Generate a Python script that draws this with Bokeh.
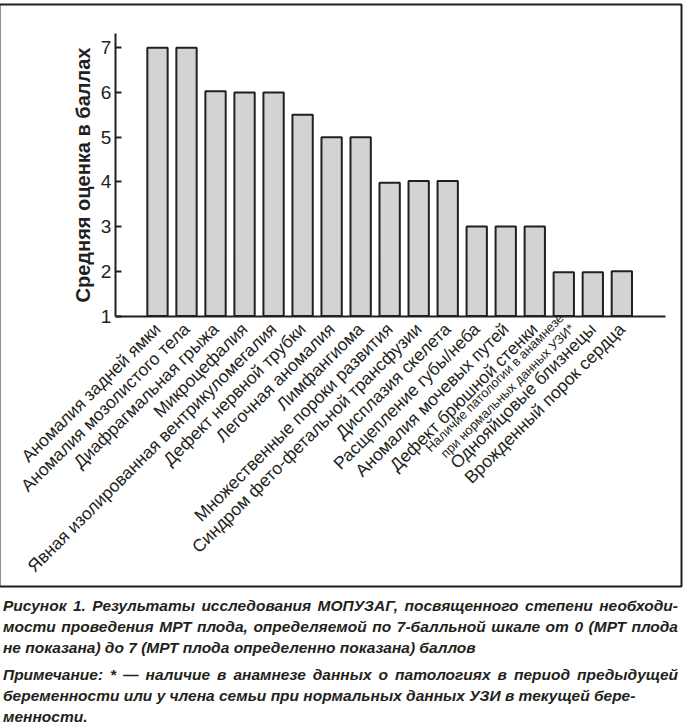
import math
from bokeh.plotting import figure
from bokeh.models import Range1d, FixedTicker, Label, Div
from bokeh.layouts import column
from bokeh.embed import file_html
from bokeh.resources import INLINE

categories = [
    "Аномалия задней ямки",
    "Аномалия мозолистого тела",
    "Диафрагмальная грыжа",
    "Микроцефалия",
    "Явная изолированная вентрикуломегалия",
    "Дефект нервной трубки",
    "Легочная аномалия",
    "Лимфангиома",
    "Множественные пороки развития",
    "Синдром фето-фетальной трансфузии",
    "Дисплазия скелета",
    "Расщепление губы/неба",
    "Аномалия мочевых путей",
    "Дефект брюшной стенки",
    "Наличие патологии в анамнезе\nпри нормальных данных УЗИ*",
    "Однояйцовые близнецы",
    "Врожденный порок сердца",
]
scores = [7.0, 7.0, 6.03, 6.0, 6.0, 5.5, 5.0, 5.0, 3.98, 4.02, 4.02, 3.0, 3.0, 3.0, 1.98, 1.98, 2.0]
y_ticks = [1, 2, 3, 4, 5, 6, 7]
y_title = "Средняя оценка в баллах"
special_index = 14

caption_par1 = [
    "Рисунок 1. Результаты исследования МОПУЗАГ, посвященного степени необходи-",
    "мости проведения МРТ плода, определяемой по 7-балльной шкале от 0 (МРТ плода",
    "не показана) до 7 (МРТ плода определенно показана) баллов",
]
caption_par2 = [
    "Примечание: * — наличие в анамнезе данных о патологиях в период предыдущей",
    "беременности или у члена семьи при нормальных данных УЗИ в текущей бере-",
    "менности.",
]

INK = "#231f20"
xs = list(range(len(categories)))

# the frame is the whole boxed panel; axes are fixed inside it
X_LO, X_HI = -5.444, 18.056
Y_LO, Y_HI = -5.051, 7.969
AX_X0, AX_X1 = -1.45, 17.5
AX_Y0, AX_Y1 = 1, 7.33

p = figure(
    width=690, height=590,
    x_range=Range1d(X_LO, X_HI),
    y_range=Range1d(Y_LO, Y_HI),
    output_backend="svg", toolbar_location=None,
    min_border_left=4, min_border_right=4,
    min_border_top=4, min_border_bottom=4,
)
p.vbar(x=xs, top=scores, bottom=AX_Y0, width=0.7,
       fill_color="#d3d3d5", line_color=INK, line_width=2)

p.xgrid.visible = False
p.ygrid.visible = False
p.outline_line_color = INK
p.outline_line_width = 2
p.border_fill_color = None

# y axis
yax = p.yaxis[0]
yax.fixed_location = AX_X0
yax.bounds = (AX_Y0, AX_Y1)
yax.ticker = FixedTicker(ticks=y_ticks)
yax.axis_label = y_title
yax.axis_label_text_font = "Liberation Sans"
yax.axis_label_text_font_style = "bold"
yax.axis_label_text_font_size = "20px"
yax.axis_label_text_color = INK
yax.axis_label_standoff = 4
yax.major_label_text_font = "Liberation Sans"
yax.major_label_text_font_size = "19px"
yax.major_label_text_color = INK
yax.major_label_standoff = 4
yax.major_tick_in = 6
yax.major_tick_out = 0
yax.major_tick_line_width = 2
yax.major_tick_line_color = INK
yax.minor_tick_line_color = None
yax.axis_line_width = 2
yax.axis_line_color = INK

# x axis
xax = p.xaxis[0]
xax.fixed_location = AX_Y0
xax.bounds = (AX_X0, AX_X1)
xax.ticker = FixedTicker(ticks=xs)
overrides = {i: c for i, c in zip(xs, categories)}
overrides[special_index] = ""
xax.major_label_overrides = overrides
xax.major_label_orientation = math.pi / 4
xax.major_label_text_font = "Liberation Sans"
xax.major_label_text_font_size = "17.5px"
xax.major_label_text_color = INK
xax.major_label_standoff = 4
xax.major_tick_line_color = None
xax.minor_tick_line_color = None
xax.axis_line_width = 2
xax.axis_line_color = INK

special = Label(
    x=xs[special_index], y=AX_Y0, text=categories[special_index],
    x_offset=3, y_offset=-5, angle=math.pi / 4,
    text_align="right", text_baseline="middle",
    text_font="Liberation Sans", text_font_size="13px",
    text_color=INK, text_line_height=1.0,
)
p.add_layout(special)


def line_div(t, justify):
    style = "white-space:nowrap;"
    if justify:
        style += "text-align:justify;text-align-last:justify;"
    return "<div style='%s'>%s</div>" % (style, t)


html = ("<div style=\"font-family:'Liberation Sans',Arial,sans-serif;font-weight:bold;"
        "font-style:italic;font-size:15.5px;line-height:21px;color:%s;width:675px\">" % INK)
html += "<div>" + line_div(caption_par1[0], True) + line_div(caption_par1[1], True) + line_div(caption_par1[2], False) + "</div>"
html += "<div style='margin-top:6px'>" + line_div(caption_par2[0], True) + line_div(caption_par2[1], False) + line_div(caption_par2[2], False) + "</div>"
html += "</div>"

caption = Div(text=html, width=680, styles={"margin-top": "5px", "margin-left": "8px"})

layout = column(p, caption, spacing=0, styles={"margin-left": "-5px", "margin-top": "0px"})

open("out.html", "w").write(file_html(layout, INLINE))
